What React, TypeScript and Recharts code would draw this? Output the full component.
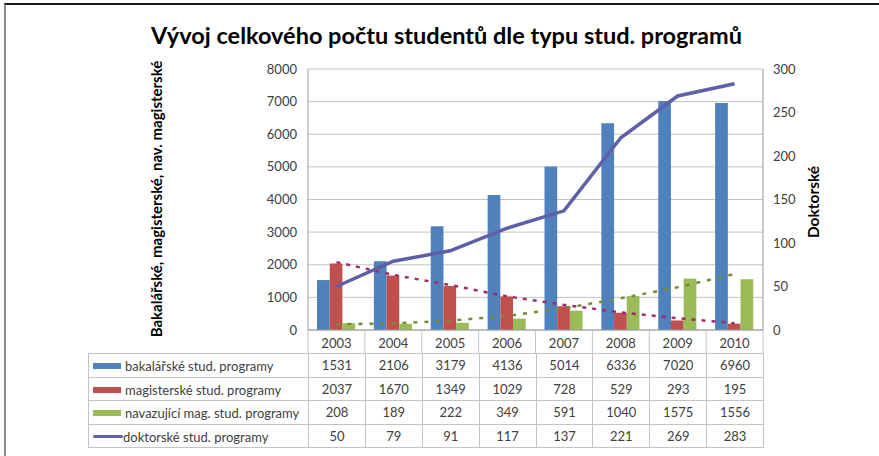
import React from 'react';
import {
  ComposedChart, Bar, Line, XAxis, YAxis, CartesianGrid,
} from 'recharts';

const YEARS = ['2003', '2004', '2005', '2006', '2007', '2008', '2009', '2010'];
const BAKALARSKE = [1531, 2106, 3179, 4136, 5014, 6336, 7020, 6960];
const MAGISTERSKE = [2037, 1670, 1349, 1029, 728, 529, 293, 195];
const NAVAZUJICI = [208, 189, 222, 349, 591, 1040, 1575, 1556];
const DOKTORSKE = [50, 79, 91, 117, 137, 221, 269, 283];
// trendlines
const MAG_TREND = [2080, 1690, 1380, 1030, 770, 540, 360, 210];
const NAV_TREND = [175, 205, 285, 430, 665, 970, 1310, 1715];
const LEFT_TICKS = [0, 1000, 2000, 3000, 4000, 5000, 6000, 7000, 8000];
const RIGHT_TICKS = [0, 50, 100, 150, 200, 250, 300];

const data = YEARS.map((year, i) => ({
  year,
  bak: BAKALARSKE[i],
  mag: MAGISTERSKE[i],
  nav: NAVAZUJICI[i],
  dok: DOKTORSKE[i],
  magTrend: MAG_TREND[i],
  navTrend: NAV_TREND[i],
}));

const FONT = 'Lato, "Open Sans", sans-serif';
const TEXT = '#404040';
const GRID = '#c4c4c4';
const AXIS = '#9a9a9a';

const PLOT_LEFT = 308;
const PLOT_RIGHT = 763;
const PLOT_TOP = 69;
const PLOT_BOTTOM = 330;
const TABLE_TOP = 353;
const ROW_H = 23.5;
const COL_W = (PLOT_RIGHT - PLOT_LEFT) / YEARS.length;

const SERIES = [
  { name: 'bakalářské stud. programy', color: '#4f81bd', values: BAKALARSKE, line: false },
  { name: 'magisterské stud. programy', color: '#c0504d', values: MAGISTERSKE, line: false },
  { name: 'navazující mag. stud. programy', color: '#9bbb59', values: NAVAZUJICI, line: false },
  { name: 'doktorské stud. programy', color: '#5f5fa8', values: DOKTORSKE, line: true },
];

const YearTick = (props: any) => {
  const { x, payload, index } = props;
  const half = COL_W / 2;
  return (
    <g>
      {index === 0 && (
        <line x1={x - half} x2={x - half} y1={PLOT_BOTTOM} y2={TABLE_TOP} stroke={GRID} />
      )}
      <line x1={x + half} x2={x + half} y1={PLOT_BOTTOM} y2={TABLE_TOP} stroke={GRID} />
      <text x={x} y={PLOT_BOTTOM + 18} textAnchor="middle" fill={TEXT} fontSize={13} fontFamily={FONT}>
        {payload.value}
      </text>
    </g>
  );
};

export default function App() {
  return (
    <div style={{ position: 'absolute', left: 0, top: 0, width: 879, height: 456, background: '#fff', overflow: 'hidden' }}>
      <div style={{ position: 'absolute', left: 4, top: 3, width: 900, height: 500, borderTop: '2px solid #1a1a1a', borderLeft: '2px solid #8a8a8a' }} />
      <div style={{ position: 'absolute', left: 0, width: 893, top: 21, textAlign: 'center', fontFamily: FONT, fontWeight: 'bold', fontSize: 23.5, color: '#000' }}>
        Vývoj celkového počtu studentů dle typu stud. programů
      </div>
      <div style={{
        position: 'absolute', left: 156, top: 199, transform: 'translate(-50%, -50%) rotate(-90deg)',
        whiteSpace: 'nowrap', fontFamily: FONT, fontWeight: 'bold', fontSize: 15, color: '#000',
      }}>
        Bakalářské, magisterské, nav. magisterské
      </div>
      <div style={{
        position: 'absolute', left: 813, top: 202, transform: 'translate(-50%, -50%) rotate(-90deg)',
        whiteSpace: 'nowrap', fontFamily: FONT, fontWeight: 'bold', fontSize: 15.5, color: '#000',
      }}>
        Doktorské
      </div>

      <div style={{ position: 'absolute', left: 0, top: 0 }}>
        <ComposedChart
          width={879}
          height={456}
          data={data}
          barSize={12.7}
          barGap={0}
          margin={{ top: PLOT_TOP, right: 0, left: 0, bottom: 456 - PLOT_BOTTOM - 24 }}
        >
          <CartesianGrid yAxisId="left" vertical={false} stroke={GRID} />
          <XAxis dataKey="year" height={24} tick={<YearTick />} tickLine={false} axisLine={{ stroke: AXIS }} interval={0} />
          <YAxis
            yAxisId="left" width={PLOT_LEFT} domain={[0, 8000]} ticks={LEFT_TICKS}
            tickLine={false} tickMargin={5} axisLine={{ stroke: AXIS }}
            tick={{ fill: TEXT, fontSize: 13, fontFamily: FONT }}
          />
          <YAxis
            yAxisId="right" orientation="right" width={879 - PLOT_RIGHT} domain={[0, 300]} ticks={RIGHT_TICKS}
            tickLine={false} tickMargin={4} axisLine={{ stroke: AXIS }}
            tick={{ fill: TEXT, fontSize: 13, fontFamily: FONT, textAnchor: 'start' }}
          />
          <Bar yAxisId="left" dataKey="bak" fill="#4f81bd" isAnimationActive={false} />
          <Bar yAxisId="left" dataKey="mag" fill="#c0504d" isAnimationActive={false} />
          <Bar yAxisId="left" dataKey="nav" fill="#9bbb59" isAnimationActive={false} />
          <Line yAxisId="left" type="linear" dataKey="magTrend" stroke="#9b2f6e" strokeWidth={2.5}
            strokeDasharray="4 6" dot={false} isAnimationActive={false} />
          <Line yAxisId="left" type="linear" dataKey="navTrend" stroke="#7a8a3a" strokeWidth={2.5}
            strokeDasharray="4 7" dot={false} isAnimationActive={false} />
          <Line yAxisId="right" type="linear" dataKey="dok" stroke="#5f5fa8" strokeWidth={3.5}
            dot={false} isAnimationActive={false} />
        </ComposedChart>
      </div>

      <table style={{
        position: 'absolute', left: 88, top: TABLE_TOP, borderCollapse: 'collapse', tableLayout: 'fixed',
        fontFamily: FONT, fontSize: 13, color: TEXT,
      }}>
        <colgroup>
          <col style={{ width: PLOT_LEFT - 88 }} />
          {YEARS.map((y) => <col key={y} style={{ width: COL_W }} />)}
        </colgroup>
        <tbody>
          {SERIES.map((s) => (
            <tr key={s.name} style={{ height: ROW_H }}>
              <td style={{ border: `1px solid ${GRID}`, padding: '0 0 0 4px', whiteSpace: 'nowrap' }}>
                <span style={{
                  display: 'inline-block', width: s.line ? 30 : 28, height: s.line ? 3 : 6,
                  background: s.color, verticalAlign: 'middle', marginRight: s.line ? 0 : 4, borderRadius: s.line ? 2 : 0,
                }} />
                <span style={{ verticalAlign: 'middle' }}>{s.name}</span>
              </td>
              {s.values.map((v, i) => (
                <td key={i} style={{ border: `1px solid ${GRID}`, textAlign: 'center', padding: 0 }}>{v}</td>
              ))}
            </tr>
          ))}
        </tbody>
      </table>
    </div>
  );
}
